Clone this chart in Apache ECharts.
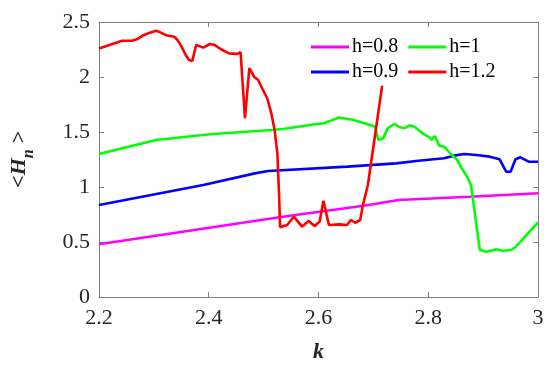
<!DOCTYPE html>
<html>
<head>
<meta charset="utf-8">
<script src="https://cdn.jsdelivr.net/npm/echarts@6/dist/echarts.min.js"></script>
<style>
  html, body { margin: 0; padding: 0; background: #fff; }
  #chart { width: 550px; height: 369px; }
</style>
</head>
<body>
<div id="chart"></div>
<script>
// data: [k, <H_n>]
const seriesNames = ['h=0.8', 'h=0.9', 'h=1', 'h=1.2']
const seriesColors = ['#ff00ff', '#0000ff', '#00ff00', '#ff0000']

const h08 = [[2.2, 0.479], [2.535, 0.73], [2.682, 0.83], [2.746, 0.882], [2.876, 0.912], [3.0, 0.943]]

const h09 = [[2.2, 0.836], [2.39, 1.018], [2.484, 1.124], [2.508, 1.145], [2.653, 1.185], [2.741, 1.215],
  [2.782, 1.239], [2.829, 1.261], [2.847, 1.285], [2.865, 1.30], [2.888, 1.291], [2.912, 1.276],
  [2.93, 1.252], [2.942, 1.139], [2.95, 1.139], [2.959, 1.252], [2.968, 1.27], [2.983, 1.23], [3.0, 1.23]]

const h1 = [[2.2, 1.3], [2.304, 1.427], [2.402, 1.479], [2.514, 1.518], [2.535, 1.527], [2.59, 1.568],
  [2.61, 1.579], [2.623, 1.605], [2.638, 1.632], [2.662, 1.612], [2.688, 1.573], [2.703, 1.548],
  [2.709, 1.427], [2.718, 1.443], [2.726, 1.533], [2.738, 1.573], [2.746, 1.548], [2.756, 1.533],
  [2.766, 1.561], [2.775, 1.548], [2.791, 1.482], [2.802, 1.452], [2.806, 1.427], [2.812, 1.464],
  [2.82, 1.375], [2.829, 1.366], [2.841, 1.30], [2.853, 1.245], [2.861, 1.17], [2.87, 1.10],
  [2.878, 1.018], [2.887, 0.685], [2.894, 0.427], [2.906, 0.412], [2.924, 0.434], [2.936, 0.421],
  [2.951, 0.427], [2.96, 0.457], [3.0, 0.679]]

const h12 = [[2.2, 2.26], [2.242, 2.33], [2.26, 2.33], [2.269, 2.343], [2.281, 2.38], [2.29, 2.397],
  [2.304, 2.42], [2.31, 2.41], [2.322, 2.38], [2.337, 2.366], [2.343, 2.336], [2.349, 2.29],
  [2.358, 2.2], [2.364, 2.155], [2.37, 2.145], [2.377, 2.29], [2.39, 2.267], [2.402, 2.3],
  [2.411, 2.29], [2.423, 2.25], [2.437, 2.215], [2.452, 2.21], [2.458, 2.225], [2.466, 1.625],
  [2.474, 2.08], [2.483, 2.0], [2.49, 1.973], [2.499, 1.88], [2.507, 1.8], [2.514, 1.67],
  [2.52, 1.52], [2.525, 1.31], [2.528, 0.95], [2.53, 0.634], [2.543, 0.655], [2.555, 0.73],
  [2.57, 0.64], [2.582, 0.69], [2.593, 0.645], [2.602, 0.685], [2.609, 0.875], [2.619, 0.655],
  [2.638, 0.66], [2.652, 0.655], [2.659, 0.70], [2.667, 0.675], [2.676, 0.70], [2.681, 0.836],
  [2.69, 1.018], [2.716, 1.92]]

const xMin = 2.2, xMax = 3, xStep = 0.2
const yMin = 0, yMax = 2.5, yStep = 0.5

const serif = 'Liberation Serif'
const axisGray = '#7f7f7f'
const labelColor = '#262626'

const chart = echarts.init(document.getElementById('chart'))

const tickLabel = { fontFamily: serif, fontSize: 22, color: labelColor }
const boxAxis = (extra) => Object.assign({
  axisLine: { show: true, onZero: false, lineStyle: { color: axisGray, width: 1 } },
  axisTick: { show: true, inside: true, length: 5, lineStyle: { color: axisGray } },
  splitLine: { show: false }
}, extra)

const legendBase = {
  left: 306,
  icon: 'rect',
  itemWidth: 38,
  itemHeight: 3,
  itemGap: 10,
  textStyle: { fontFamily: serif, fontSize: 20, color: '#000', padding: [0, 0, 0, -2] }
}

const allData = [h08, h09, h1, h12]

chart.setOption({
  animation: false,
  backgroundColor: '#fff',
  grid: { left: 86, right: 12, top: 22, bottom: 72 },
  legend: [
    Object.assign({ top: 32, data: ['h=0.8', 'h=1'] }, legendBase),
    Object.assign({ top: 57, data: ['h=0.9', 'h=1.2'] }, legendBase)
  ],
  xAxis: [
    boxAxis({
      type: 'value', position: 'bottom', min: xMin, max: xMax, interval: xStep,
      axisLabel: Object.assign({ margin: 10 }, tickLabel),
      name: 'k',
      nameLocation: 'middle',
      nameGap: 44,
      nameTextStyle: { fontFamily: serif, fontSize: 22, fontWeight: 'bold', fontStyle: 'italic', color: labelColor }
    }),
    boxAxis({
      type: 'value', position: 'top', min: xMin, max: xMax, interval: xStep,
      axisLabel: { show: false }
    })
  ],
  yAxis: [
    boxAxis({
      type: 'value', position: 'left', min: yMin, max: yMax, interval: yStep,
      axisLabel: Object.assign({ margin: 9 }, tickLabel),
      name: '{a|<H}{b|n}{a| >}',
      nameLocation: 'middle',
      nameRotate: 90,
      nameGap: 62,
      nameTextStyle: {
        rich: {
          a: { fontFamily: serif, fontSize: 22, fontWeight: 'bold', fontStyle: 'italic', color: labelColor, lineHeight: 24 },
          b: { fontFamily: serif, fontSize: 16, fontWeight: 'bold', fontStyle: 'italic', color: labelColor, padding: [20, 0, 0, 0] }
        }
      }
    }),
    boxAxis({
      type: 'value', position: 'right', min: yMin, max: yMax, interval: yStep,
      axisLabel: { show: false }
    })
  ],
  series: seriesNames.map((name, i) => ({
    name: name,
    type: 'line',
    data: allData[i],
    showSymbol: false,
    symbol: 'none',
    color: seriesColors[i],
    lineStyle: { width: 2.6, color: seriesColors[i] },
    z: 2 + i
  }))
})
</script>
</body>
</html>
